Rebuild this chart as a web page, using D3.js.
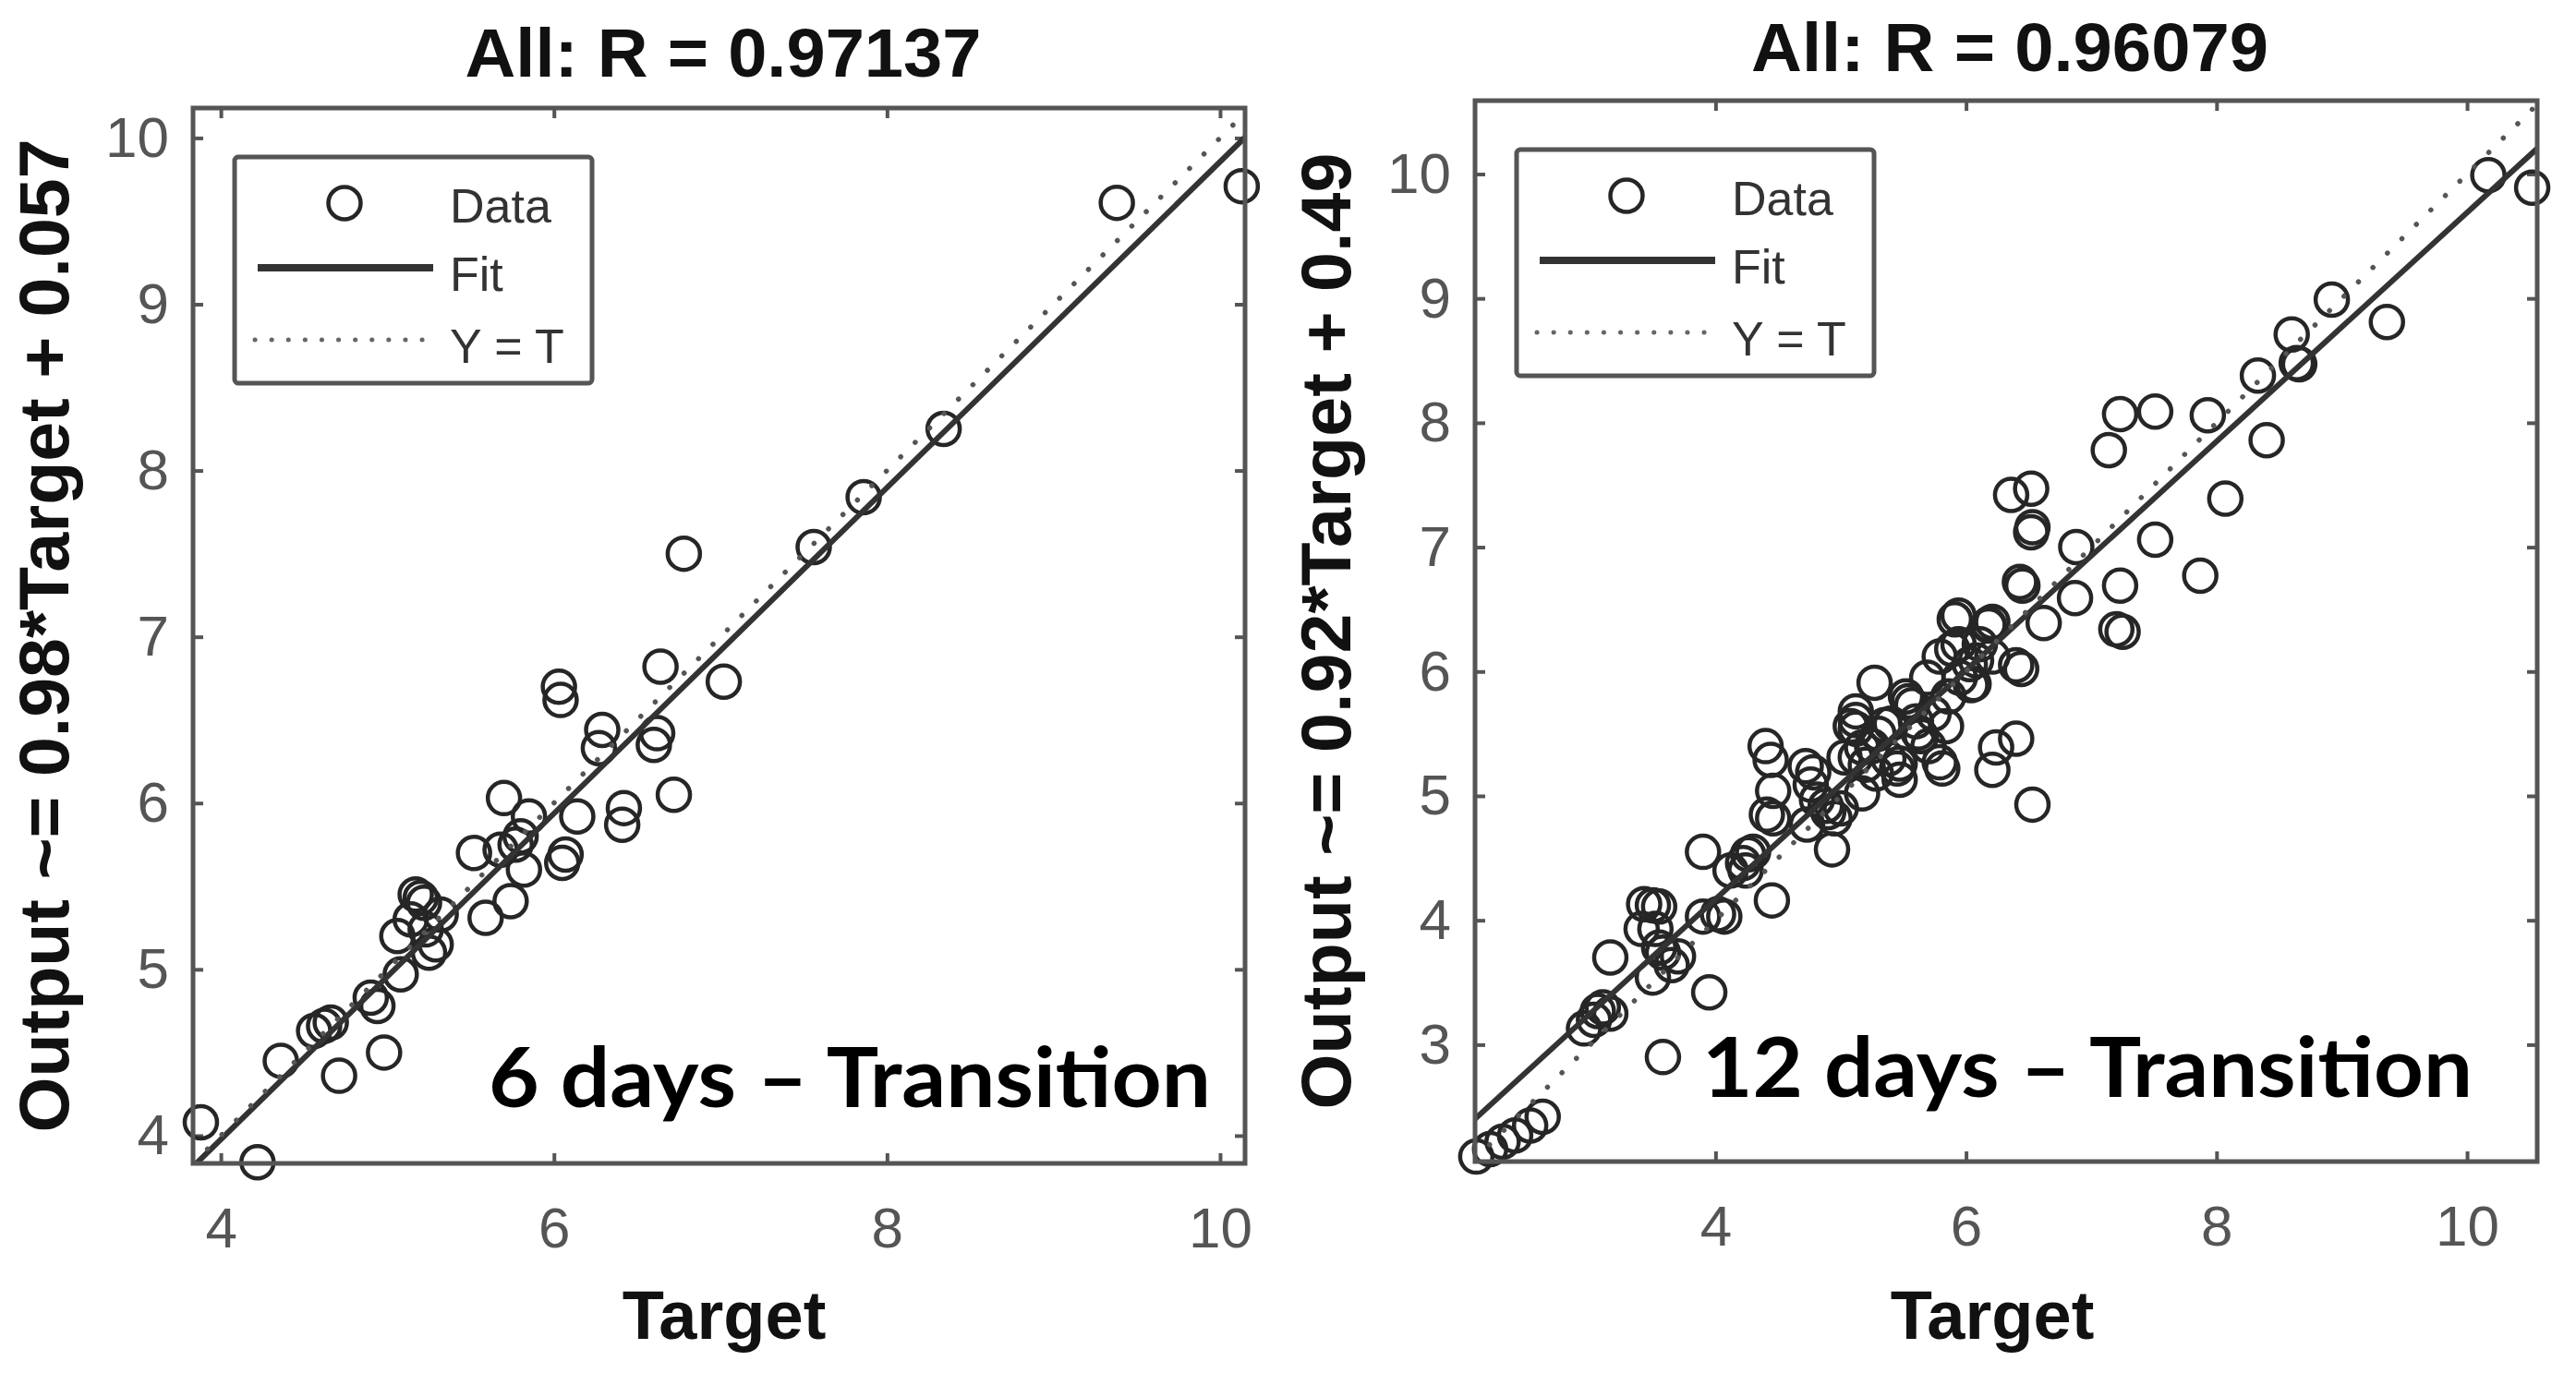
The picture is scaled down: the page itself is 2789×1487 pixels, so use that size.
<!DOCTYPE html>
<html><head><meta charset="utf-8">
<script src="https://cdn.jsdelivr.net/npm/d3@7"></script>
<style>body{margin:0;background:#fff} svg{display:block;background:#fff}</style>
</head><body>
<svg id="chart" width="2789" height="1487"></svg>
<script>
// ---------------- data ----------------
const xTicks = [4, 6, 8, 10];
const yTicks6 = [4, 5, 6, 7, 8, 9, 10];
const yTicks12 = [3, 4, 5, 6, 7, 8, 9, 10];

const target6 = [3.88, 4.22, 4.36, 4.56, 4.62, 4.66, 4.71, 4.98, 4.90, 4.94, 5.08, 5.06, 5.14, 5.17, 5.20, 5.22, 5.23, 5.25, 5.29, 5.32,
  5.52, 5.59, 5.74, 5.70, 5.85, 5.68, 5.77, 5.80, 5.82, 6.14, 6.05, 6.07, 6.29, 6.27, 6.42, 6.41, 6.62, 6.60, 6.64, 6.72,
  7.02, 6.03, 6.04, 6.78, 7.56, 7.86, 8.34, 9.38, 10.13];
const output6 = [4.08, 3.84, 4.45, 4.63, 4.66, 4.68, 4.36, 4.50, 4.83, 4.78, 4.97, 5.20, 5.30, 5.45, 5.43, 5.40, 5.24, 5.10, 5.15, 5.33,
  5.70, 5.31, 5.41, 6.03, 5.92, 5.72, 5.75, 5.80, 5.60, 5.92, 5.64, 5.69, 6.44, 6.33, 5.97, 5.87, 6.42, 6.35, 6.82, 6.05,
  6.73, 6.70, 6.62, 7.50, 7.54, 7.84, 8.25, 9.61, 9.71];

const target12 = [2.09, 2.20, 2.30, 2.40, 2.52, 2.62, 2.95, 3.03, 3.06, 3.10, 3.16, 3.16, 3.58, 3.41, 3.43, 3.50, 3.55, 3.52, 3.50, 3.58,
  3.65, 3.70, 3.55, 3.95, 3.90, 4.02, 4.07, 3.90, 4.12, 4.30, 4.22, 4.26, 4.45, 4.44, 4.40, 4.46, 4.46, 4.41, 4.72, 4.76,
  4.78, 4.81, 4.73, 4.88, 4.90, 4.95, 4.93, 5.00, 5.03, 5.08, 5.12, 5.12, 5.17, 5.12, 5.17, 5.20, 5.28, 5.27, 5.38, 5.40,
  5.35, 5.45, 5.47, 5.47, 5.52, 5.57, 5.62, 5.64, 5.54, 5.69, 5.74, 5.79, 5.81, 5.84, 5.86, 5.79, 5.89, 5.94, 5.91, 5.94,
  6.03, 6.06, 6.08, 6.11, 6.18, 6.21, 6.21, 6.21, 6.24, 6.40, 6.53, 6.40, 6.44, 6.45, 6.43, 6.62, 6.36, 6.52, 6.53, 6.52,
  6.87, 6.88, 7.14, 7.23, 7.51, 7.23, 7.20, 7.25, 7.51, 7.87, 7.93, 8.07, 8.33, 8.40, 8.60, 8.64, 8.66, 8.92, 9.36, 10.17,
  10.52, 5.12, 6.04, 6.18, 4.24, 5.25, 5.30, 5.60, 5.95, 5.70];
const output12 = [2.10, 2.16, 2.22, 2.27, 2.35, 2.42, 3.13, 3.20, 3.27, 3.30, 3.25, 3.70, 2.90, 3.93, 4.13, 4.12, 4.11, 3.93, 3.54, 3.74,
  3.64, 3.71, 3.78, 3.42, 4.03, 4.05, 4.03, 4.55, 4.40, 4.55, 4.46, 4.53, 4.16, 5.29, 5.40, 5.04, 4.82, 4.85, 5.24, 5.09,
  5.19, 4.97, 4.77, 4.92, 4.87, 4.82, 4.57, 4.90, 5.31, 5.56, 5.61, 5.54, 5.39, 5.31, 5.02, 5.25, 5.18, 5.91, 5.30, 5.58,
  5.57, 5.22, 5.13, 5.26, 5.80, 5.73, 5.51, 5.48, 5.76, 5.95, 5.66, 5.27, 5.22, 5.56, 5.80, 6.12, 6.18, 6.22, 6.42, 6.45,
  6.06, 5.90, 6.09, 6.22, 6.37, 6.40, 6.12, 5.21, 5.39, 5.46, 4.93, 6.05, 6.02, 6.69, 6.72, 6.39, 7.42, 7.47, 7.16, 7.12,
  6.59, 7.00, 7.78, 8.07, 8.09, 6.69, 6.34, 6.32, 7.06, 6.77, 8.06, 7.39, 8.38, 7.86, 8.71, 8.48, 8.47, 8.99, 8.81, 9.99,
  9.89, 5.68, 5.89, 6.38, 4.40, 5.40, 5.50, 5.60, 5.95, 5.40];

const titles = ["All: R = 0.97137", "All: R = 0.96079"];
const yLabels = ["Output ~= 0.98*Target + 0.057", "Output ~= 0.92*Target + 0.49"];
const xLabel = "Target";
const fitSlope = [0.98, 0.92];
const fitIntercept = [0.057, 0.49];
const annotations = ["6 days \u2013 Transition", "12 days \u2013 Transition"];
const legendLabels = ["Data", "Fit", "Y = T"];
const limits6 = [3.833, 10.15, 3.833, 10.18];
const limits12 = [2.08, 10.56, 2.06, 10.59];

// ---------------- layout ----------------
const panels = [
  { t: target6, o: output6, lim: limits6, yTicks: yTicks6, left: 209, right: 1348, top: 117, bottom: 1260,
    titleX: 783, titleY: 83, titleW: 559, xLabX: 784, yLabX: 74, yLabW: 1076,
    annX: 529, annY: 1199, annW: 782 },
  { t: target12, o: output12, lim: limits12, yTicks: yTicks12, left: 1597, right: 2747, top: 109, bottom: 1258,
    titleX: 2176, titleY: 77, titleW: 560, xLabX: 2157, yLabX: 1462, yLabW: 1036,
    annX: 1843, annY: 1188, annW: 834 }
];

const svg = d3.select("#chart");
const defs = svg.append("defs");
const AX = "#555", MK = "#262626", LN = "#333";
const SANS = "'Liberation Sans', Arial, Helvetica, sans-serif";

panels.forEach((p, i) => {
  const x = d3.scaleLinear().domain([p.lim[0], p.lim[1]]).range([p.left, p.right]);
  const y = d3.scaleLinear().domain([p.lim[2], p.lim[3]]).range([p.bottom, p.top]);
  const g = svg.append("g");
  const w = p.right - p.left, h = p.bottom - p.top;

  defs.append("clipPath").attr("id", "clip" + i)
    .append("rect").attr("x", p.left).attr("y", p.top).attr("width", w).attr("height", h);

  // axes with inward ticks (bottom/left labelled, top/right bare)
  const tk = 11;
  g.append("g").attr("transform", `translate(0,${p.bottom})`)
    .call(d3.axisBottom(x).tickValues(xTicks).tickSize(-tk).tickPadding(47).tickFormat(d3.format("d")))
    .call(a => a.select(".domain").remove());
  g.append("g").attr("transform", `translate(0,${p.top})`)
    .call(d3.axisTop(x).tickValues(xTicks).tickSize(-tk).tickFormat(""))
    .call(a => a.select(".domain").remove());
  g.append("g").attr("transform", `translate(${p.left},0)`)
    .call(d3.axisLeft(y).tickValues(p.yTicks).tickSize(-tk).tickPadding(26).tickFormat(d3.format("d")))
    .call(a => a.select(".domain").remove());
  g.append("g").attr("transform", `translate(${p.right},0)`)
    .call(d3.axisRight(y).tickValues(p.yTicks).tickSize(-tk).tickFormat(""))
    .call(a => a.select(".domain").remove());
  g.selectAll(".tick line").attr("stroke", AX).attr("stroke-width", 4);
  g.selectAll(".tick text").attr("fill", "#555").attr("font-family", SANS).attr("font-size", 62);

  // data markers
  const pts = p.t.map((v, k) => [v, p.o[k]]);
  g.append("g").selectAll("circle").data(pts).join("circle")
    .attr("cx", d => x(d[0])).attr("cy", d => y(d[1])).attr("r", 17.5)
    .attr("fill", "none").attr("stroke", MK).attr("stroke-width", 4.5);

  // fit line and Y = T
  const lines = g.append("g").attr("clip-path", `url(#clip${i})`);
  const x0 = p.lim[0], x1 = p.lim[1];
  lines.append("line")
    .attr("x1", x(x0)).attr("y1", y(fitSlope[i] * x0 + fitIntercept[i]))
    .attr("x2", x(x1)).attr("y2", y(fitSlope[i] * x1 + fitIntercept[i]))
    .attr("stroke", LN).attr("stroke-width", 6);
  const lo = Math.max(p.lim[0], p.lim[2]), hi = Math.min(p.lim[1], p.lim[3]);
  lines.append("line")
    .attr("x1", x(lo)).attr("y1", y(lo)).attr("x2", x(hi)).attr("y2", y(hi))
    .attr("stroke", "#555").attr("stroke-width", 5.5).attr("stroke-linecap", "round")
    .attr("stroke-dasharray", "0.1 22");

  // frame
  g.append("rect").attr("x", p.left).attr("y", p.top).attr("width", w).attr("height", h)
    .attr("fill", "none").attr("stroke", AX).attr("stroke-width", 5);

  // legend
  const lx = p.left + 45, ly = p.top + 53;
  const lg = g.append("g").attr("transform", `translate(${lx},${ly})`);
  lg.append("rect").attr("width", 387).attr("height", 245).attr("rx", 4)
    .attr("fill", "#fff").attr("stroke", AX).attr("stroke-width", 5);
  lg.append("circle").attr("cx", 119).attr("cy", 50).attr("r", 17.5)
    .attr("fill", "none").attr("stroke", MK).attr("stroke-width", 4.5);
  lg.append("line").attr("x1", 25).attr("x2", 215).attr("y1", 120).attr("y2", 120)
    .attr("stroke", LN).attr("stroke-width", 8);
  lg.append("line").attr("x1", 22).attr("x2", 204).attr("y1", 198).attr("y2", 198)
    .attr("stroke", "#666").attr("stroke-width", 5).attr("stroke-linecap", "round")
    .attr("stroke-dasharray", "0.1 18");
  lg.selectAll("text").data(legendLabels).join("text")
    .attr("x", 233).attr("y", (d, k) => [71, 145, 223][k])
    .attr("font-family", SANS).attr("font-size", 52).attr("fill", "#333")
    .text(d => d);

  // title
  svg.append("text").attr("x", p.titleX).attr("y", p.titleY).attr("text-anchor", "middle")
    .attr("font-family", SANS).attr("font-weight", "bold").attr("font-size", 75).attr("fill", "#111")
    .attr("textLength", p.titleW).attr("lengthAdjust", "spacingAndGlyphs")
    .text(titles[i]);

  // x label
  svg.append("text").attr("x", p.xLabX).attr("y", 1450).attr("text-anchor", "middle")
    .attr("font-family", SANS).attr("font-weight", "bold").attr("font-size", 74).attr("fill", "#111")
    .text(xLabel);

  // y label
  const cy = (p.top + p.bottom) / 2;
  svg.append("text").attr("transform", `translate(${p.yLabX},${cy}) rotate(-90)`)
    .attr("text-anchor", "middle")
    .attr("font-family", SANS).attr("font-weight", "bold").attr("font-size", 76).attr("fill", "#111")
    .attr("textLength", p.yLabW).attr("lengthAdjust", "spacingAndGlyphs")
    .text(yLabels[i]);

  // annotation
  svg.append("text").attr("x", p.annX).attr("y", p.annY)
    .attr("font-family", "Lato, 'Open Sans', sans-serif").attr("font-weight", "bold")
    .attr("font-size", 90).attr("fill", "#000")
    .attr("textLength", p.annW).attr("lengthAdjust", "spacingAndGlyphs")
    .text(annotations[i]);
});
</script>
</body></html>
